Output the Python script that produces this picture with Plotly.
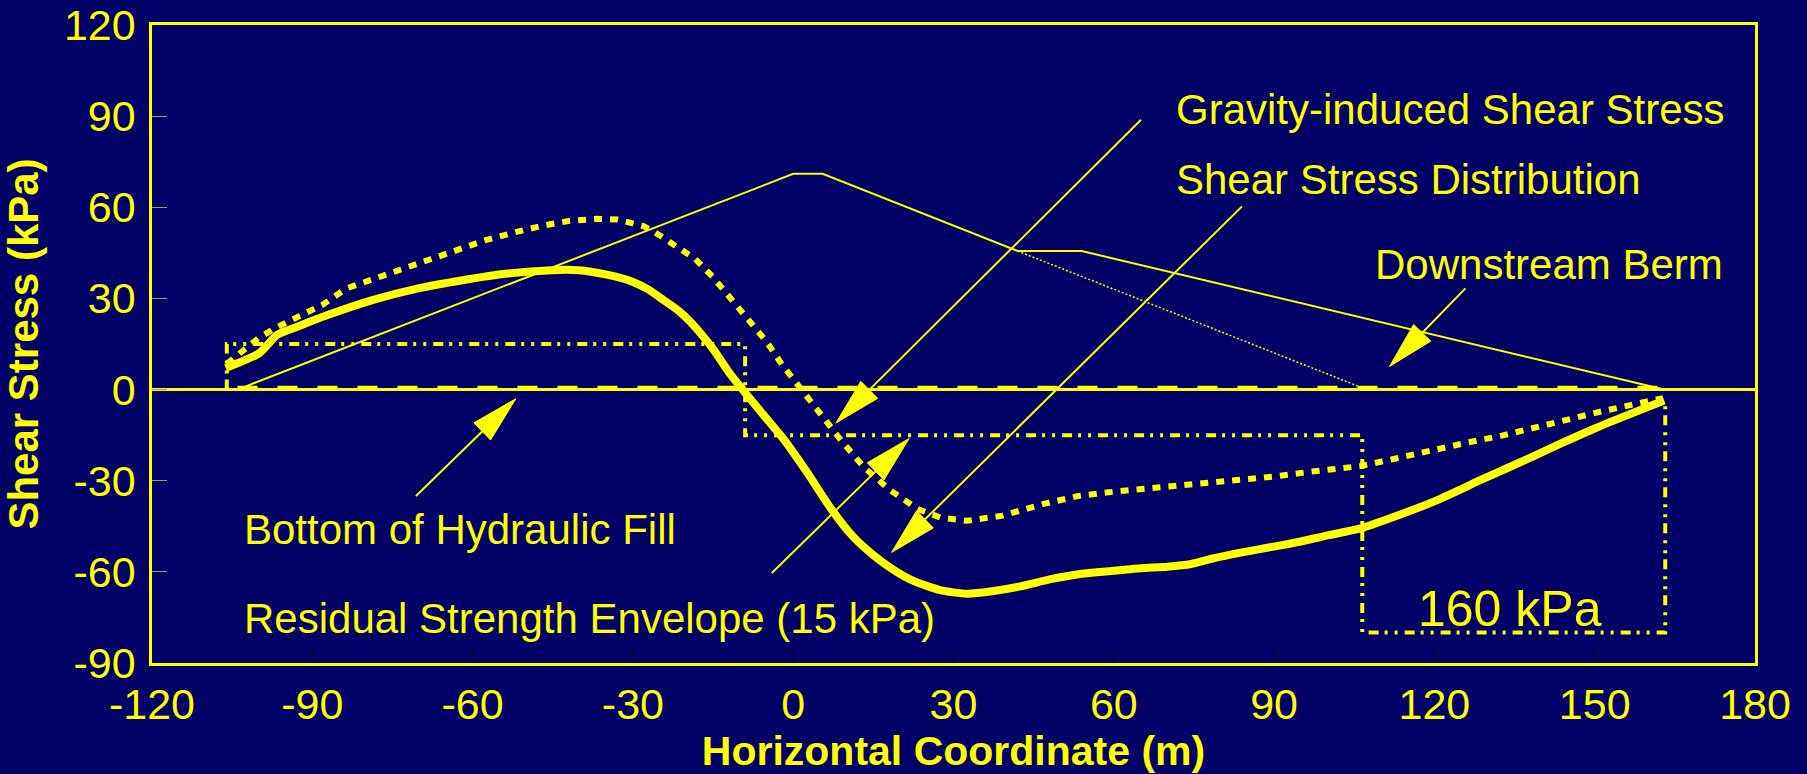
import plotly.graph_objects as go
import numpy as np

# ---------------- data ----------------
x_ticks = [-120, -90, -60, -30, 0, 30, 60, 90, 120, 150, 180]
y_ticks = [-90, -60, -30, 0, 30, 60, 90, 120]

# dam cross-section outline (with downstream berm)
dam_x = [-115, -104, 0, 5.5, 42, 54, 163, 177.5]
dam_y = [0, 0, 71, 71, 45.6, 45.6, 0, 0]
# original slope without berm (thin dotted)
slope_ext_x = [42, 107.3]
slope_ext_y = [45.6, 0]
# bottom of hydraulic fill (dashed)
fill_bottom_x = [-104, 163]
fill_bottom_y = [0.6, 0.6]
# residual strength envelope (dash-dot-dot)
resid_x = [-106, -106, -9, -9, 106.5, 106.5, 163.2, 163.2]
resid_y = [0, 15, 15, -15, -15, -80, -80, -4]

# gravity-induced shear stress (dotted)
grav_x = [-106, -103, -100, -97, -92, -88, -83.6, -80, -76, -72, -68.6, -63, -57.7,
          -52, -46.8, -42, -36.8, -33, -31, -28, -25.9, -22, -18.4, -15, -11.7, -8.5,
          -5, -2, 0.8, 4.9, 9.1, 13.3, 18.3, 23.3, 27.5, 32.5, 39.2, 46.7, 53.4, 59,
          65.1, 71, 76.8, 84, 90.2, 97, 104.2, 106.1, 113, 119.8, 126, 132.3, 138.5,
          144.8, 151, 157.2, 162.8]
grav_y = [8.5, 13, 17, 20.2, 24.5, 28, 33.3, 35.5, 37.7, 40.5, 42.6, 46, 49.1,
          51.8, 54, 55.5, 56.2, 56, 55.1, 53.8, 51.8, 47.5, 43.1, 37, 30, 22.5,
          15.8, 8, 1.6, -8.2, -17, -25.7, -33.3, -39.3, -42.1, -43.2, -41.5, -37.7, -35, -33.8,
          -32.8, -31.8, -30.9, -29.8, -28.6, -27, -25.9, -25.2, -22.6, -19.7, -17.5, -15.3, -12.5,
          -9.8, -7.3, -4.9, -2.8]

# shear stress distribution (thick solid)
shear_x = [-106.2, -99.9, -96.6, -92.8, -87, -78.6, -70.2, -61.9, -53.5, -45.2, -40.2,
           -35.1, -30.1, -27, -24.3, -21.5, -19.3, -15.1, -11.7, -9.2, -5.5, -1.7, 2.5, 7, 11, 15,
           18.5, 22.5, 27.5, 32.5, 37.5, 42.5, 48, 53.4, 59, 65, 70, 74.5, 78.5, 84,
           90.2, 95, 100, 106, 113, 120, 129, 138.5, 144, 150, 156, 163]
shear_y = [7.1, 12.0, 18.0, 20.7, 24.6, 29.5, 33.3, 36.0, 38.2, 39.3, 39.3,
           37.9, 35.5, 32.8, 29.5, 26.0, 22.4, 13.6, 4.9, -0.6, -8.5, -16.5, -27, -39, -48, -54.5,
           -59, -63, -66, -67.2, -66.3, -64.8, -62.5, -60.8, -59.8, -58.8, -58.3, -57.4, -55.6, -53.6,
           -51.6, -50, -48, -45.8, -41.5, -36.8, -29.5, -22, -17.5, -12.8, -8.5, -3.6]

# annotations
labels = ["Gravity-induced Shear Stress", "Shear Stress Distribution", "Downstream Berm",
          "Bottom of Hydraulic Fill", "Residual Strength Envelope (15 kPa)"]
label_x = [71.3, 71.3, 108.6, -103.2, -103.2]
label_y = [92.2, 69.2, 41.3, -45.9, -75.4]
arrow_tail_x = [65.1, 84.0, 125.8, -70.6, -4.0]
arrow_tail_y = [88.8, 60.3, 33.3, -35.0, -60.4]
arrow_tip_x = [8.0, 18.4, 111.6, -51.9, 21.7]
arrow_tip_y = [-11.0, -53.6, 7.6, -3.0, -16.1]
box_label = "160 kPa"
box_label_x = 134.1
box_label_y = -72.2

# ---------------- style ----------------
NAVY = "#000066"
YEL = "#FFFF00"
FONT = "Liberation Sans, Arial, sans-serif"
W, H = 1807, 774
ML, MR, MT, MB = 152, 52, 25, 111
XR = [-120, 180]
YR = [-90, 120]
sx = (W - ML - MR) / (XR[1] - XR[0])
sy = (H - MT - MB) / (YR[1] - YR[0])

fig = go.Figure()

fig.add_trace(go.Scatter(x=dam_x, y=dam_y, mode="lines",
                         line=dict(color=YEL, width=2), hoverinfo="skip"))
fig.add_trace(go.Scatter(x=slope_ext_x, y=slope_ext_y, mode="lines",
                         line=dict(color=YEL, width=1.5, dash="2px,2px"), hoverinfo="skip"))
fig.add_trace(go.Scatter(x=fill_bottom_x, y=fill_bottom_y, mode="lines",
                         line=dict(color=YEL, width=4, dash="20px,20px"), hoverinfo="skip"))
fig.add_trace(go.Scatter(x=resid_x, y=resid_y, mode="lines",
                         line=dict(color=YEL, width=4, dash="10px,6px,3px,7px,3px,7px"),
                         hoverinfo="skip"))
fig.add_trace(go.Scatter(x=grav_x, y=grav_y, mode="lines",
                         line=dict(color=YEL, width=6, dash="8px,8px"), hoverinfo="skip"))
fig.add_trace(go.Scatter(x=shear_x, y=shear_y, mode="lines", line_shape="spline",
                         line=dict(color=YEL, width=8, smoothing=0.6), hoverinfo="skip"))

# arrows: leader line + filled slender triangular head
HEAD_L, HEAD_W = 47, 24
for tx, ty, hx, hy in zip(arrow_tail_x, arrow_tail_y, arrow_tip_x, arrow_tip_y):
    dxp = (hx - tx) * sx
    dyp = (hy - ty) * sy
    n = np.hypot(dxp, dyp)
    ux, uy = dxp / n, dyp / n
    bx = hx - HEAD_L * ux / sx
    by = hy - HEAD_L * uy / sy
    px, py = -uy, ux
    c1x = bx + HEAD_W / 2 * px / sx
    c1y = by + HEAD_W / 2 * py / sy
    c2x = bx - HEAD_W / 2 * px / sx
    c2y = by - HEAD_W / 2 * py / sy
    fig.add_trace(go.Scatter(x=[tx, bx], y=[ty, by], mode="lines",
                             line=dict(color=YEL, width=2), hoverinfo="skip"))
    fig.add_trace(go.Scatter(x=[hx, c1x, c2x, hx], y=[hy, c1y, c2y, hy], mode="lines",
                             fill="toself", fillcolor=YEL,
                             line=dict(color=YEL, width=1), hoverinfo="skip"))

annotations = []
for t, x, y in zip(labels, label_x, label_y):
    annotations.append(dict(x=x, y=y, xref="x", yref="y", text=t, showarrow=False,
                            xanchor="left", yanchor="middle",
                            font=dict(family=FONT, size=42, color=YEL)))
annotations.append(dict(x=box_label_x, y=box_label_y, xref="x", yref="y", text=box_label,
                        showarrow=False, xanchor="center", yanchor="middle",
                        font=dict(family=FONT, size=50, color=YEL)))

fig.update_layout(
    width=W, height=H,
    margin=dict(l=ML, r=MR, t=MT, b=MB, pad=0),
    paper_bgcolor=NAVY, plot_bgcolor=NAVY,
    showlegend=False,
    annotations=annotations,
    font=dict(family=FONT, color=YEL),
)
fig.update_xaxes(
    range=XR, tickvals=x_ticks, ticktext=[str(v) for v in x_ticks],
    ticks="inside", ticklen=15, tickcolor="#000000", tickwidth=1,
    showgrid=False, zeroline=False,
    showline=True, linecolor=YEL, linewidth=3, mirror=True,
    tickfont=dict(family=FONT, size=43, color=YEL),
    ticklabelstandoff=1, ticklabeloverflow="allow",
    title=dict(text="<b>Horizontal Coordinate (m)</b>",
               font=dict(family=FONT, size=41, color=YEL), standoff=15),
    automargin=False,
)
fig.update_yaxes(
    range=[YR[0], YR[1] + 0.001], tickvals=y_ticks, ticktext=[str(v) for v in y_ticks],
    ticks="inside", ticklen=15, tickcolor="#A8A040", tickwidth=1,
    showgrid=False, zeroline=True, zerolinecolor=YEL, zerolinewidth=3,
    showline=True, linecolor=YEL, linewidth=2.5, mirror=True,
    tickfont=dict(family=FONT, size=43, color=YEL),
    ticklabelstandoff=5, ticklabeloverflow="allow",
    title=dict(text="<b>Shear Stress (kPa)</b>",
               font=dict(family=FONT, size=42, color=YEL), standoff=13),
    automargin=False,
)

fig.write_html("out.html")
